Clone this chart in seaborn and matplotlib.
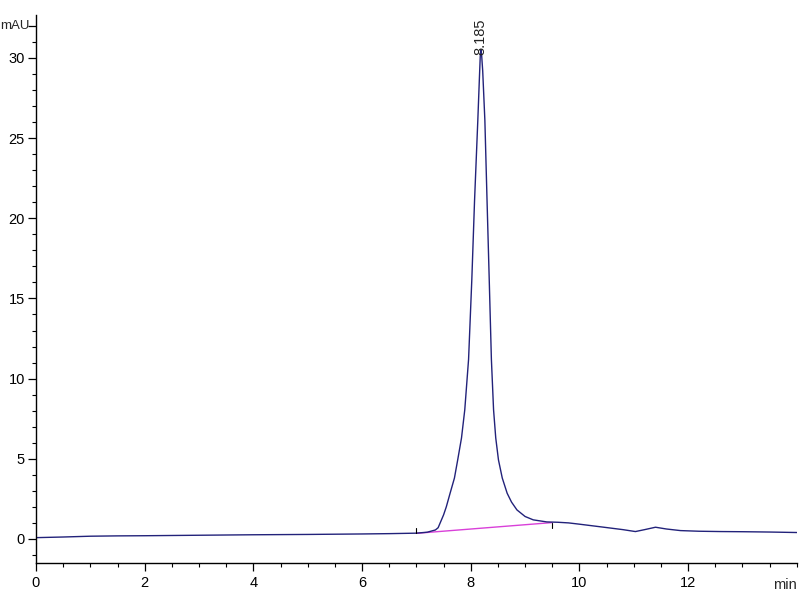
import matplotlib
matplotlib.use("Agg")
import matplotlib.pyplot as plt
from matplotlib.ticker import MultipleLocator
from matplotlib.transforms import blended_transform_factory
import seaborn as sns
import pandas as pd

# chromatogram trace (time in min, signal in mAU)
TIME = [0.0, 0.5, 1.0, 1.5, 2.0, 3.0, 4.0, 5.0, 6.0, 6.5, 7.0, 7.2, 7.35, 7.40,
        7.50, 7.55, 7.62, 7.70, 7.76, 7.83, 7.89, 7.96, 8.02, 8.07, 8.13, 8.16,
        8.175, 8.185, 8.20, 8.22, 8.26, 8.30, 8.34, 8.38, 8.42, 8.46, 8.51, 8.58,
        8.67, 8.75, 8.85, 9.00, 9.15, 9.40, 9.60, 9.80, 10.0, 10.45, 10.8, 11.03,
        11.2, 11.40, 11.6, 11.86, 12.2, 12.6, 13.0, 13.5, 14.0]
SIGNAL = [0.08, 0.12, 0.17, 0.19, 0.20, 0.23, 0.26, 0.28, 0.31, 0.33, 0.36, 0.42,
          0.56, 0.70, 1.5, 2.0, 2.85, 3.8, 4.93, 6.3, 8.05, 11.2, 16.2, 21.1,
          26.1, 28.8, 30.1, 30.5, 30.2, 29.2, 26.1, 21.1, 16.2, 11.2, 8.05, 6.3,
          4.93, 3.8, 2.85, 2.3, 1.81, 1.40, 1.19, 1.06, 1.04, 1.0, 0.92, 0.73,
          0.58, 0.46, 0.58, 0.73, 0.62, 0.52, 0.48, 0.46, 0.45, 0.43, 0.40]

# integration baseline under the peak
BASE_T = [7.0, 9.5]
BASE_Y = [0.35, 1.02]

PEAK_T = 8.185
PEAK_H = 30.5
PEAK_LABEL = "8.185"

YTICKS = [0, 5, 10, 15, 20, 25, 30, 32]
YLABELS = ["0", "5", "10", "15", "20", "25", "30", ""]
XTICKS = [0, 2, 4, 6, 8, 10, 12]

sns.set_style("ticks")
plt.rcParams["font.family"] = ["Liberation Sans Narrow", "Liberation Sans", "DejaVu Sans"]

df = pd.DataFrame({"t": TIME, "mAU": SIGNAL})
base = pd.DataFrame({"t": BASE_T, "mAU": BASE_Y})

fig = plt.figure(figsize=(8, 6), dpi=100)
ax = fig.add_axes([0.045, 0.0617, 0.951, 0.9133])

sns.lineplot(data=base, x="t", y="mAU", color="#d940d9", linewidth=1.0, ax=ax)
sns.lineplot(data=df, x="t", y="mAU", color="#22227a", linewidth=1.0, ax=ax)

# small start / end marks of the integration
ax.plot([BASE_T[0], BASE_T[0]], [BASE_Y[0], BASE_Y[0] + 0.35], color="black", lw=0.8)
ax.plot([BASE_T[1], BASE_T[1]], [BASE_Y[1], BASE_Y[1] - 0.35], color="black", lw=0.8)

ax.text(PEAK_T, PEAK_H - 0.3, PEAK_LABEL, rotation=90, ha="center", va="bottom",
        fontsize=10.5, color="#222222")

ax.set_xlim(0, 14)
ax.set_ylim(-1.5, 32.68)
ax.set_xticks(XTICKS)
ax.set_xticklabels([str(x) for x in XTICKS])
ax.xaxis.set_minor_locator(MultipleLocator(0.5))
ax.set_yticks(YTICKS)
ax.set_yticklabels(YLABELS)
ax.yaxis.set_minor_locator(MultipleLocator(1))
ax.tick_params(axis="both", which="major", labelsize=10.5, length=6, width=0.9, colors="black")
ax.tick_params(axis="y", which="major", pad=2)
ax.tick_params(axis="both", which="minor", length=3, width=0.8, colors="black")
ax.set_xlabel("")
ax.set_ylabel("")
sns.despine(ax=ax)
for s in ["left", "bottom"]:
    ax.spines[s].set_linewidth(1.0)
    ax.spines[s].set_color("black")

# unit labels
trans = blended_transform_factory(fig.transFigure, ax.transData)
ax.text(0.0, 32, "mAU", transform=trans, ha="left", va="center", fontsize=9.5)
ax.text(0.985, -0.04, "min", transform=ax.transAxes, ha="center", va="center", fontsize=10.5)

fig.savefig("out.png", dpi=100)
